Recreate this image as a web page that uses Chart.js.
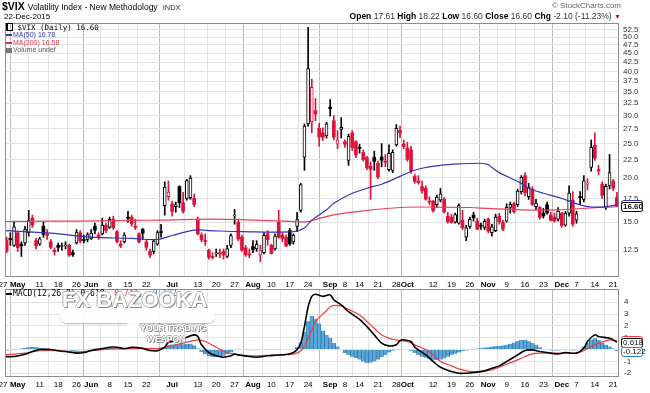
<!DOCTYPE html>
<html>
<head>
<meta charset="utf-8">
<script src="https://cdn.jsdelivr.net/npm/chart.js@4.4.1/dist/chart.umd.min.js"></script>
<style>
  html, body { margin: 0; padding: 0; background: #fff; }
  #wrap { position: relative; width: 650px; height: 393px; overflow: hidden; font-family: "Liberation Sans", Arial, sans-serif; color: #000; }
  canvas { position: absolute; left: 0; top: 0; }
  .t { position: absolute; white-space: nowrap; }
  .mono { font-family: "DejaVu Sans Mono", "Liberation Mono", monospace; }
  .dash { display: inline-block; width: 6px; height: 2px; vertical-align: middle; margin-right: 1px; }
  #wm { position: absolute; left: 0; top: 0; pointer-events: none; }
  .wm { position: absolute; white-space: nowrap; font-weight: bold; color: #fff; font-family: "Liberation Sans", Arial, sans-serif;
        text-shadow: 1px 1px 0 #8a8a8a, -1px 0 0 #b0b0b0, 0 -1px 0 #b0b0b0; }
</style>
</head>
<body>
<div id="wrap">
  <canvas id="priceChart" width="650" height="393"></canvas>
  <canvas id="macdChart" width="650" height="393"></canvas>

  <!-- header -->
  <div class="t" style="left:2px; top:0px; font-size:10.5px; line-height:12px;">
    <b>$VIX</b> <span style="font-size:8.5px;">Volatility Index - New Methodology</span>
    <span style="font-size:7.5px; color:#333;">&nbsp;INDX</span>
  </div>
  <div class="t" style="left:4px; top:12px; font-size:8px; line-height:10px;">22-Dec-2015</div>
  <div class="t" style="right:29px; top:1px; font-size:8px; line-height:9px; color:#666;">&copy; StockCharts.com</div>
  <div class="t" style="right:29px; top:11px; font-size:8.5px; line-height:10px; color:#333;">
    <b style="color:#000;">Open</b> 17.61 <b style="color:#000;">High</b> 18.22 <b style="color:#000;">Low</b> 16.60
    <b style="color:#000;">Close</b> 16.60 <b style="color:#000;">Chg</b> -2.10 (-11.23%) <span style="color:#c8102e; font-size:7px;">&#9660;</span>
  </div>

  <!-- price legend -->
  <div class="t mono" style="left:6px; top:23px; font-size:7.5px; line-height:8px;">
    <span style="display:inline-block;width:4px;height:6px;border:1px solid #000;border-left-width:2px;vertical-align:-1px;"></span> $VIX (Daily) 16.60
  </div>
  <div class="t" style="left:6px; top:31px; font-size:7px; line-height:7px; color:#3434b4;"><span class="dash" style="background:#3434b4;"></span>MA(50) 16.78</div>
  <div class="t" style="left:6px; top:38.5px; font-size:7px; line-height:7px; color:#e0304a;"><span class="dash" style="background:#e0304a;"></span>MA(200) 16.58</div>
  <div class="t" style="left:6px; top:46px; font-size:7px; line-height:7px; color:#555;"><span style="display:inline-block;width:6px;height:5px;background:#777;margin-right:1px;vertical-align:-1px;"></span>Volume undef</div>

  <!-- macd legend -->
  <div class="t mono" style="left:6px; top:289px; font-size:8px; line-height:9px;">
    <span class="dash" style="background:#000;"></span>MACD(12,26,9) 0.618, <span style="color:#e8303a;">0.741</span>, <span style="color:#2b7fc0;">-0.122</span>
  </div>

  <!-- watermark -->
  <div id="wm">
    <div style="position:absolute; left:60px; top:308px; width:155px; height:15px; background:rgba(255,255,255,0.88); border-radius:7px; box-shadow:0 1px 1px rgba(120,120,120,0.5);"></div>
    <div style="position:absolute; left:126px; top:320px; width:12px; height:12px; background:rgba(255,255,255,0.85); transform:skewX(-20deg);"></div>
    <div class="wm" style="left:62px; top:289px; font-size:22px; line-height:22px;">FX BAZOOKA</div>
    <div class="wm" style="left:140px; top:323px; font-size:9px; line-height:10px; letter-spacing:-0.3px;">YOUR TRADING</div>
    <div class="wm" style="left:147px; top:334px; font-size:8.5px; line-height:10px;">WEAPON</div>
  </div>
</div>

<script>
/* ===========================
   CALENDAR
=========================== */
const holidays = ["2015-05-25", "2015-07-03", "2015-09-07", "2015-11-26"];
const days = [];
for (let d = new Date(Date.UTC(2015, 3, 27)); d <= new Date(Date.UTC(2015, 11, 22)); d.setUTCDate(d.getUTCDate() + 1)) {
  const wd = d.getUTCDay();
  const iso = d.toISOString().slice(0, 10);
  if (wd !== 0 && wd !== 6 && !holidays.includes(iso)) days.push(iso);
}

const tickDates = ["2015-04-27", "2015-05-01", "2015-05-11", "2015-05-18", "2015-05-26", "2015-06-01", "2015-06-08",
  "2015-06-15", "2015-06-22", "2015-07-01", "2015-07-13", "2015-07-20", "2015-07-27", "2015-08-03", "2015-08-10",
  "2015-08-17", "2015-08-24", "2015-09-01", "2015-09-08", "2015-09-14", "2015-09-21", "2015-09-28", "2015-10-01",
  "2015-10-12", "2015-10-19", "2015-10-26", "2015-11-02", "2015-11-09", "2015-11-16", "2015-11-23", "2015-12-01",
  "2015-12-07", "2015-12-14", "2015-12-21"];
const tickLabels = ["27", "May", "11", "18", "26", "Jun", "8", "15", "22", "Jul", "13", "20", "27", "Aug", "10",
  "17", "24", "Sep", "8", "14", "21", "28", "Oct", "12", "19", "26", "Nov", "9", "16", "23", "Dec", "7", "14", "21"];
const monthNames = ["May", "Jun", "Jul", "Aug", "Sep", "Oct", "Nov", "Dec"];

/* ===========================
   PRICE DATA (daily O/H/L/C)
=========================== */
const open = [
  12.6, 13.3, 13.5, 12.9,                                                   // Apr
  14.0, 13.0, 13.1, 14.0, 15.4, 13.3, 13.0, 14.6, 13.8, 13.2, 12.5, 12.9, 12.8, 12.85, 12.9, 12.3,
  13.1, 14.0, 13.4, 13.4,                                                   // May
  13.5, 14.6, 13.8, 13.9, 14.7, 14.5, 15.3, 14.1, 13.0, 13.2, 15.45, 15.5, 14.6, 13.9, 14.3, 13.2,
  12.4, 12.4, 13.0, 14.1, 16.7, 17.7,                                       // Jun
  16.9, 16.6, 18.9, 17.0, 17.5, 17.6, 17.5, 15.3, 13.8, 13.3, 12.5, 12.0, 12.2, 12.3, 12.4, 12.0,
  12.9, 15.6, 15.0, 13.6, 12.7, 12.2,                                       // Jul
  12.8, 12.6, 12.1, 12.3, 13.9, 12.9, 12.6, 15.0, 13.8, 13.6, 14.2, 13.2, 14.6, 16.2, 22.9, 28.4,
  28.8, 31.0, 27.6, 26.8, 26.3,                                             // Aug
  31.7, 29.0, 24.9, 27.4, 25.3, 22.4, 26.8, 25.3, 24.3, 23.6, 22.8, 21.6, 22.9, 22.0, 22.9, 22.3,
  21.1, 21.0, 24.8, 27.2, 24.9,                                             // Sep
  24.3, 24.0, 20.2, 19.6, 18.9, 18.7, 17.2, 17.2, 16.8, 17.3, 17.4, 15.6, 15.5, 15.0, 14.9, 15.2,
  13.6, 14.6, 15.7, 15.1, 14.7, 14.5,                                       // Oct
  15.3, 14.0, 14.2, 15.6, 15.0, 15.1, 16.5, 16.9, 16.8, 18.3, 20.3, 17.7, 18.6, 16.6, 16.5, 15.9,
  16.8, 15.7, 15.5, 15.3,                                                   // Nov
  15.9, 14.7, 15.9, 17.3, 15.2, 17.7, 17.4, 19.2, 21.4, 24.7, 21.1, 19.2, 16.6, 19.0, 19.6, 17.61  // Dec
];
const high = [
  13.6, 13.6, 14.0, 15.1,
  14.1, 13.2, 14.6, 16.2, 15.7, 13.5, 13.6, 15.0, 14.3, 13.4, 12.7, 13.1, 13.1, 13.2, 13.0, 12.5,
  14.3, 14.2, 13.8, 14.0,
  14.3, 14.9, 14.0, 15.4, 14.9, 15.5, 15.6, 14.2, 13.3, 14.0, 16.1, 15.7, 15.3, 14.0, 14.4, 13.4,
  12.6, 13.4, 14.2, 14.8, 19.5, 19.6,
  17.2, 17.1, 19.0, 18.2, 19.8, 20.3, 18.0, 15.5, 14.0, 13.9, 12.6, 12.3, 12.6, 12.6, 12.6, 12.9,
  13.9, 16.3, 15.3, 13.8, 12.9, 12.6,
  13.3, 13.3, 12.9, 14.0, 14.2, 13.0, 13.9, 16.2, 14.0, 13.8, 14.4, 13.9, 16.0, 19.3, 28.4, 53.29,
  38.0, 33.5, 28.5, 27.7, 28.7,
  33.3, 30.0, 27.2, 29.6, 25.6, 26.6, 27.2, 25.5, 24.9, 24.0, 23.0, 22.2, 23.8, 22.3, 25.0, 23.3,
  24.8, 24.0, 28.3, 28.0, 25.6,
  25.2, 24.6, 20.5, 20.3, 19.6, 19.0, 17.7, 17.3, 17.9, 18.7, 17.6, 16.0, 15.8, 15.9, 16.9, 16.2,
  14.7, 15.5, 16.0, 15.4, 14.9, 15.3,
  15.4, 14.8, 15.8, 15.9, 15.2, 16.9, 17.1, 17.1, 18.6, 20.3, 20.7, 19.3, 18.9, 17.4, 16.6, 16.4,
  17.1, 16.0, 15.9, 16.5,
  16.0, 16.1, 19.0, 18.3, 16.1, 18.3, 20.3, 19.9, 25.6, 26.8, 21.7, 19.5, 19.2, 23.3, 19.8, 18.22
];
const low = [
  12.4, 12.3, 12.9, 12.8,
  12.4, 12.0, 12.9, 13.7, 14.5, 12.6, 12.9, 13.6, 13.4, 12.6, 12.1, 12.4, 12.5, 12.6, 12.0, 12.0,
  13.0, 13.1, 13.1, 13.2,
  13.4, 13.9, 13.4, 13.8, 14.0, 14.4, 14.3, 13.1, 12.7, 13.1, 15.0, 14.6, 14.3, 13.1, 13.4, 12.5,
  11.9, 12.2, 12.9, 13.6, 15.7, 17.3,
  15.6, 16.0, 16.5, 15.9, 17.3, 17.4, 16.6, 13.8, 13.2, 12.9, 11.8, 11.8, 12.0, 11.9, 11.8, 11.9,
  12.7, 14.8, 13.3, 12.4, 12.0, 11.9,
  12.3, 12.4, 11.6, 12.2, 12.9, 12.2, 12.5, 13.5, 13.2, 12.8, 12.9, 13.0, 14.1, 16.0, 21.0, 28.0,
  26.8, 29.0, 24.6, 25.5, 25.9,
  29.9, 25.6, 24.2, 25.9, 24.4, 21.7, 23.9, 22.8, 23.5, 22.3, 21.1, 17.4, 21.0, 19.9, 21.5, 21.5,
  20.9, 20.7, 24.6, 26.0, 24.2,
  22.3, 20.6, 19.3, 19.2, 18.1, 17.3, 16.8, 16.0, 16.5, 17.1, 15.9, 14.9, 14.9, 14.9, 14.8, 14.3,
  13.3, 14.4, 15.1, 14.3, 14.3, 14.3,
  14.0, 13.7, 14.1, 14.8, 14.2, 15.0, 15.9, 15.9, 16.6, 18.0, 17.8, 17.4, 16.7, 16.3, 15.3, 15.4,
  15.8, 15.1, 15.0, 15.1,
  14.5, 14.6, 15.6, 14.6, 14.9, 16.8, 17.1, 18.5, 20.9, 22.4, 20.4, 17.5, 16.3, 18.6, 18.4, 16.60
];
const close = [
  13.12, 12.41, 13.39, 14.55,
  12.70, 12.85, 14.31, 15.15, 14.71, 12.86, 13.45, 13.86, 13.76, 12.74, 12.38, 12.73, 12.85, 12.88, 12.11, 12.13,
  14.06, 13.27, 13.31, 13.84,
  13.97, 14.24, 13.66, 14.71, 14.21, 15.29, 14.47, 13.22, 12.85, 13.78, 15.39, 14.81, 14.50, 13.19, 13.96, 12.74,
  12.11, 13.26, 14.01, 14.02, 18.85, 18.23,
  16.09, 16.79, 17.01, 16.09, 19.66, 19.97, 16.83, 13.90, 13.37, 13.23, 11.95, 11.93, 12.25, 12.22, 12.12, 12.64,
  13.74, 15.60, 13.44, 12.50, 12.13, 12.12,
  12.56, 13.00, 12.51, 13.77, 13.39, 12.23, 13.71, 13.61, 13.49, 12.83, 13.02, 13.79, 15.25, 19.14, 28.03, 40.74,
  36.02, 30.32, 26.10, 26.05, 28.43,
  31.40, 26.09, 25.61, 27.80, 24.90, 26.23, 24.37, 23.20, 24.25, 22.54, 21.35, 21.14, 22.28, 20.14, 22.44, 22.13,
  23.47, 23.62, 27.63, 26.83, 24.50,
  22.55, 20.94, 19.54, 19.40, 18.40, 17.42, 17.08, 16.17, 17.67, 18.03, 16.05, 15.05, 14.98, 15.75, 16.70, 14.45,
  14.46, 15.29, 15.43, 14.33, 14.61, 15.07,
  14.15, 14.54, 15.51, 15.05, 14.33, 16.52, 16.83, 16.06, 18.37, 20.08, 18.16, 18.84, 16.85, 16.99, 15.47, 15.62,
  15.93, 15.19, 15.12, 16.13,
  14.67, 15.91, 18.11, 14.81, 15.84, 17.60, 19.61, 19.34, 24.39, 22.73, 20.95, 17.86, 18.94, 20.70, 18.70, 16.60
];

// moving averages as [day index, value]
const ma50Pts = [[0, 14.2], [13, 13.96], [24, 13.6], [35, 13.5], [42, 13.4], [46, 13.75], [52, 14.25], [56, 14.2],
  [65, 14.1], [79, 14.1], [82, 14.45], [84, 15.2], [88, 16.25], [90, 16.95], [94, 17.9], [99, 18.7], [103, 19.2],
  [108, 20.2], [111, 20.85], [114, 21.3], [119, 21.7], [124, 21.9], [130, 22.0], [132, 21.8], [133, 21.4],
  [135, 20.7], [138, 20.0], [141, 19.3], [143, 18.7], [147, 18.1], [152, 17.5], [156, 16.9], [159, 16.6],
  [163, 16.55], [167, 16.78]];
const ma200Pts = [[0, 15.06], [13, 15.1], [26, 15.12], [35, 15.18], [43, 15.2], [56, 15.3], [65, 15.25], [79, 15.05],
  [83, 15.05], [85, 15.25], [90, 15.73], [99, 16.18], [108, 16.5], [117, 16.55], [127, 16.5], [132, 16.4],
  [141, 16.25], [150, 16.25], [162, 16.5], [167, 16.58]];

const priceTicks = [12.5, 15, 17.5, 20, 22.5, 25, 27.5, 30, 32.5, 35, 37.5, 40, 42.5, 45, 47.5, 50, 52.5];

/* ===========================
   MACD DATA
=========================== */
const macdPts = [[0, -0.59], [3, -0.59], [6, -0.4], [8, -0.17], [10, 0], [13, 0], [15, -0.1], [17, -0.17], [20, -0.3],
  [22, -0.25], [24, -0.08], [26, 0.03], [29, 0.2], [31, 0.2], [33, 0.08], [35, 0.2], [38, 0.1], [40, -0.08],
  [42, -0.1], [44, 0.2], [45, 0.6], [48, 0.76], [50, 1.04], [52, 1.24], [53, 1.1], [54, 0.4], [56, -0.25],
  [58, -0.53], [60, -0.65], [62, -0.53], [63, -0.37], [64, -0.45], [67, -0.59], [69, -0.65], [72, -0.53],
  [74, -0.48], [77, -0.42], [79, -0.25], [80, 0], [81, 0.54], [82, 1.94], [83, 3.6], [84, 4.5], [85, 4.68],
  [87, 4.5], [89, 4.62], [90, 4.2], [92, 3.77], [94, 3.2], [97, 2.56], [99, 1.94], [101, 1.24], [103, 0.54],
  [105, 0.31], [107, 0.4], [108, 0.76], [109, 0.82], [111, 0.68], [112, 0.2], [115, -0.45], [117, -1.0],
  [119, -1.5], [122, -1.86], [124, -2.0], [126, -2.0], [128, -1.94], [131, -1.8], [133, -1.58], [135, -1.38],
  [137, -1.01], [140, -0.45], [142, -0.08], [144, -0.03], [146, -0.17], [149, -0.3], [151, -0.37], [153, -0.25],
  [156, -0.3], [158, 0.11], [159, 0.68], [161, 1.24], [162, 1.1], [165, 0.96], [166, 0.82], [167, 0.618]];
const signalPts = [[0, -0.45], [6, -0.3], [10, -0.1], [15, -0.1], [20, -0.2], [24, -0.1], [29, 0.03], [33, 0.08],
  [38, 0.1], [42, 0.08], [45, 0.25], [49, 0.54], [53, 0.82], [55, 0.68], [58, 0.2], [61, -0.25], [64, -0.45],
  [67, -0.53], [72, -0.5], [76, -0.45], [80, -0.3], [82, 0.25], [83, 1.0], [84, 1.6], [85, 2.37], [88, 3.3],
  [89, 3.63], [90, 3.72], [92, 3.69], [94, 3.4], [97, 2.93], [99, 2.37], [101, 1.8], [103, 1.24], [106, 0.87],
  [108, 0.76], [110, 0.68], [112, 0.4], [115, 0], [117, -0.45], [119, -1.0], [122, -1.38], [124, -1.63],
  [126, -1.8], [128, -1.86], [131, -1.83], [133, -1.72], [135, -1.5], [137, -1.24], [140, -0.87], [142, -0.59],
  [144, -0.37], [146, -0.3], [151, -0.3], [156, -0.3], [158, -0.08], [160, 0.25], [162, 0.54], [165, 0.82],
  [167, 0.741]];
const histogram = [
  -0.1, -0.08, -0.05, -0.02,
  0.04, 0.1, 0.15, 0.2, 0.22, 0.2, 0.15, 0.12, 0.08, 0.05, 0.02, 0.0, -0.03, -0.05, -0.08, -0.1,
  -0.08, -0.05, 0.0, 0.03,
  0.06, 0.08, 0.1, 0.12, 0.14, 0.15, 0.14, 0.12, 0.08, 0.06, 0.08, 0.1, 0.08, 0.05, 0.02, -0.03,
  -0.08, -0.1, -0.08, 0.0, 0.2, 0.38,
  0.42, 0.45, 0.5, 0.45, 0.48, 0.5, 0.35, 0.1, -0.2, -0.4, -0.55, -0.62, -0.65, -0.6, -0.52, -0.4,
  -0.25, -0.05, 0.02, 0.0, -0.02, -0.05,
  -0.06, -0.05, -0.03, 0.0, 0.02, 0.03, 0.04, 0.05, 0.05, 0.04, 0.03, 0.06, 0.2, 0.6, 1.5, 2.4,
  2.85, 2.6, 2.2, 1.6, 1.25,
  1.0, 0.55, 0.25, 0.0, -0.3, -0.45, -0.6, -0.73, -0.85, -1.0, -1.15, -1.1, -1.0, -0.85, -0.65, -0.45,
  -0.25, -0.1, -0.02, 0.02, 0.05,
  0.0, -0.1, -0.3, -0.45, -0.6, -0.7, -0.8, -0.87, -0.88, -0.85, -0.75, -0.6, -0.45, -0.35, -0.25, -0.15,
  -0.08, -0.02, 0.03, 0.08, 0.12, 0.18,
  0.2, 0.25, 0.28, 0.3, 0.35, 0.4, 0.5, 0.6, 0.72, 0.8, 0.82, 0.7, 0.55, 0.4, 0.2, 0.05,
  -0.03, -0.08, -0.08, -0.08,
  -0.06, -0.03, -0.05, -0.08, -0.05, 0.05, 0.25, 0.55, 0.85, 0.96, 0.8, 0.6, 0.4, 0.25, 0.1, -0.122
];
const macdTicks = [-2, -1, 0, 1, 2, 3, 4];

/* ===========================
   STYLE
=========================== */
const RED = "#dc143c";
const BLACK = "#000000";
const MA50_COL = "#3434b4";
const MA200_COL = "#e8415a";
const X_MIN = 0.544, X_MAX = 167.57;
const FONT = "'Liberation Sans', Arial, sans-serif";

const tickIdx = tickDates.map(d => days.indexOf(d));
const candleCol = close.map((c, i) => (i > 0 && c < close[i - 1]) ? RED : BLACK);
const hollow = close.map((c, i) => c >= open[i]);

const xScale = (h) => ({
  type: "linear",
  min: X_MIN,
  max: X_MAX,
  offset: false,
  afterBuildTicks: s => { s.ticks = tickIdx.map(v => ({ value: v })); },
  afterFit: s => { s.height = h; s.paddingLeft = 0; s.paddingRight = 0; },
  grid: {
    drawTicks: false,
    color: ctx => {
      if (!ctx.tick || ctx.tick.value < X_MIN) return "rgba(0,0,0,0)";
      return monthNames.includes(tickLabels[ctx.index]) ? "#bdbdbd" : "#e2e2e2";
    }
  },
  border: { display: false },
  ticks: {
    autoSkip: false,
    maxRotation: 0,
    padding: 3,
    color: "#000",
    font: ctx => ({ family: FONT, size: 8, weight: monthNames.includes(tickLabels[ctx.index]) ? "bold" : "normal" }),
    callback: (v, k) => tickLabels[k]
  }
});

function box(ctx, x, y, text, stroke, bold) {
  ctx.font = (bold ? "bold " : "") + "8px " + FONT;
  const w = 21, h = 9;
  ctx.beginPath();
  if (ctx.roundRect) ctx.roundRect(x + 0.5, Math.round(y - h / 2) + 0.5, w, h, 2);
  else ctx.rect(x + 0.5, Math.round(y - h / 2) + 0.5, w, h);
  ctx.fillStyle = "#fff";
  ctx.fill();
  ctx.strokeStyle = stroke;
  ctx.lineWidth = 1;
  ctx.stroke();
  ctx.fillStyle = "#111";
  ctx.textBaseline = "middle";
  ctx.textAlign = "left";
  ctx.fillText(text, x + 2, Math.round(y - h / 2) + 5);
}

const panelFrame = {
  id: "panelFrame",
  afterDraw(chart, args, opts) {
    const { ctx, chartArea: a } = chart;
    ctx.save();
    ctx.strokeStyle = "#8c8c8c";
    ctx.lineWidth = 1;
    ctx.strokeRect(Math.round(a.left) + 0.5, Math.round(a.top) + 0.5,
      Math.round(a.right - a.left) - 1, Math.round(a.bottom - a.top) - 1);
    (opts.boxes || []).forEach(b => {
      box(ctx, Math.round(a.right) + 2, chart.scales.y.getPixelForValue(b.value), b.text, b.color, b.bold);
    });
    ctx.restore();
  }
};

Chart.defaults.font.family = FONT;
Chart.defaults.animation = false;

/* ===========================
   PRICE CHART
=========================== */
new Chart(document.getElementById("priceChart"), {
  type: "bar",
  plugins: [panelFrame],
  data: {
    datasets: [
      {
        type: "line",
        label: "MA(50)",
        data: ma50Pts.map(p => ({ x: p[0], y: p[1] })),
        borderColor: MA50_COL,
        borderWidth: 1.2,
        pointRadius: 0,
        tension: 0.35,
        order: 1
      },
      {
        type: "line",
        label: "MA(200)",
        data: ma200Pts.map(p => ({ x: p[0], y: p[1] })),
        borderColor: MA200_COL,
        borderWidth: 1.2,
        pointRadius: 0,
        tension: 0.35,
        order: 2
      },
      {
        label: "body",
        data: days.map((d, i) => ({ x: i, y: [Math.min(open[i], close[i]), Math.max(open[i], close[i])] })),
        backgroundColor: hollow.map((h, i) => h ? "#fff" : candleCol[i]),
        borderColor: candleCol,
        borderWidth: hollow.map(h => h ? 1 : 0),
        borderSkipped: false,
        barThickness: 3,
        minBarLength: 1,
        grouped: false,
        order: 3
      },
      {
        label: "wick",
        data: days.map((d, i) => ({ x: i, y: [low[i], high[i]] })),
        backgroundColor: candleCol,
        borderWidth: 0,
        barThickness: 1,
        grouped: false,
        order: 4
      }
    ]
  },
  options: {
    responsive: false,
    devicePixelRatio: 1,
    layout: { padding: { left: 5, top: 23, right: 0, bottom: 101 } },
    plugins: {
      legend: { display: false },
      tooltip: { enabled: false },
      panelFrame: {
        boxes: [
          { value: 16.78, text: "16.78", color: MA50_COL },
          { value: 16.58, text: "16.58", color: MA200_COL },
          { value: 16.60, text: "16.60", color: "#000", bold: true }
        ]
      }
    },
    scales: {
      x: xScale(15),
      y: {
        type: "logarithmic",
        position: "right",
        min: 10.5,
        max: 54.77,
        afterBuildTicks: s => { s.ticks = priceTicks.map(v => ({ value: v })); },
        afterFit: s => { s.width = 31; s.paddingTop = 0; s.paddingBottom = 0; },
        grid: { color: "#e2e2e2", drawTicks: false },
        border: { display: false },
        ticks: { padding: 4, color: "#333", font: { size: 8 }, callback: v => Number(v).toFixed(1) }
      }
    }
  }
});

/* ===========================
   MACD CHART
=========================== */
new Chart(document.getElementById("macdChart"), {
  type: "bar",
  plugins: [panelFrame],
  data: {
    datasets: [
      {
        type: "line",
        label: "MACD",
        data: macdPts.map(p => ({ x: p[0], y: p[1] })),
        borderColor: "#000",
        borderWidth: 1.6,
        pointRadius: 0,
        tension: 0.35,
        order: 1
      },
      {
        type: "line",
        label: "Signal",
        data: signalPts.map(p => ({ x: p[0], y: p[1] })),
        borderColor: "#f03c3c",
        borderWidth: 1.2,
        pointRadius: 0,
        tension: 0.35,
        order: 2
      },
      {
        label: "Histogram",
        data: histogram.map((v, i) => ({ x: i, y: v })),
        backgroundColor: "#5aa6d6",
        borderColor: "#2a6fa3",
        borderWidth: { left: 0.7, right: 0.7, top: 0, bottom: 0 },
        borderSkipped: false,
        barThickness: 3.7,
        grouped: false,
        order: 3
      }
    ]
  },
  options: {
    responsive: false,
    devicePixelRatio: 1,
    layout: { padding: { left: 5, top: 289, right: 0, bottom: 0 } },
    plugins: {
      legend: { display: false },
      tooltip: { enabled: false },
      panelFrame: {
        boxes: [
          { value: 0.741, text: "0.741", color: "#f03c3c" },
          { value: 0.618, text: "0.618", color: "#000" },
          { value: -0.122, text: "-0.122", color: "#2b7fc0" }
        ]
      }
    },
    scales: {
      x: xScale(16),
      y: {
        type: "linear",
        position: "right",
        min: -2.32,
        max: 5.12,
        afterBuildTicks: s => { s.ticks = macdTicks.map(v => ({ value: v })); },
        afterFit: s => { s.width = 31; s.paddingTop = 0; s.paddingBottom = 0; },
        grid: { color: "#e2e2e2", drawTicks: false },
        border: { display: false },
        ticks: { padding: 5, color: "#333", font: { size: 8 }, callback: v => String(v) }
      }
    }
  }
});
</script>
</body>
</html>
